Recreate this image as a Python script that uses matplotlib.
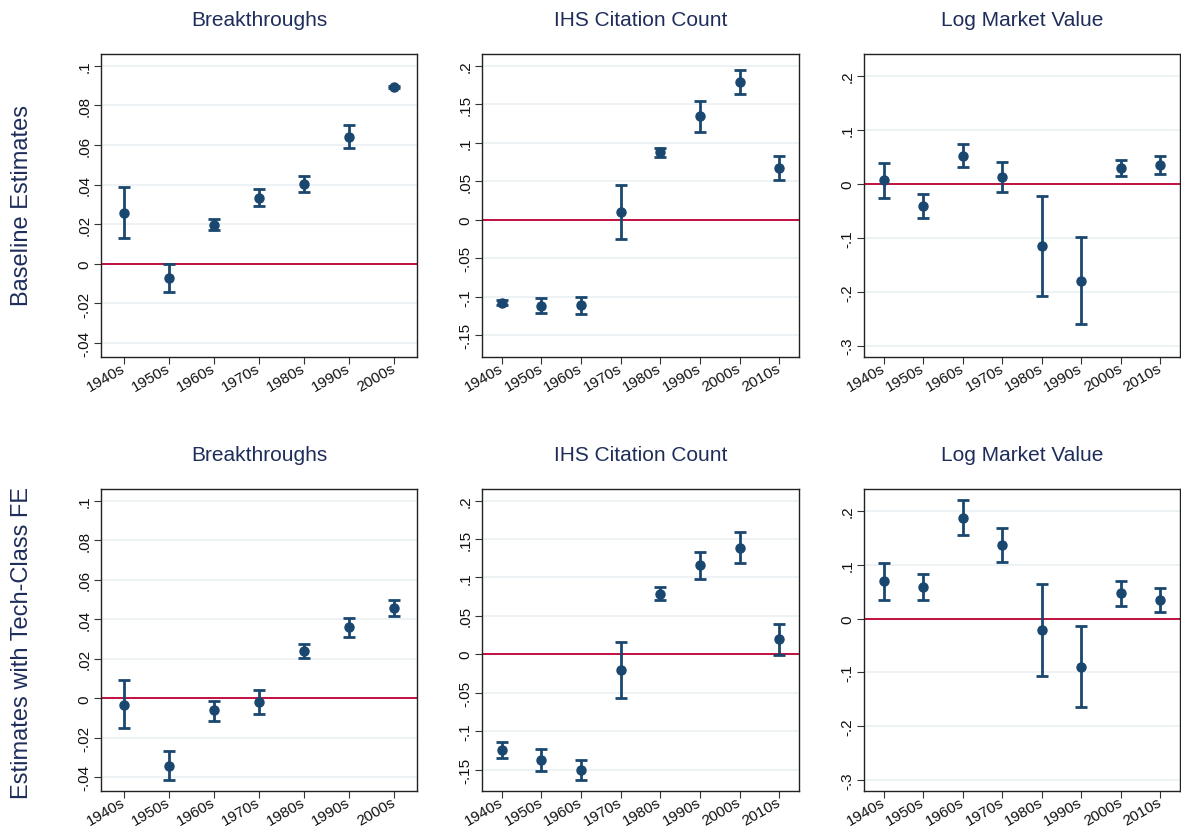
import numpy as np
import matplotlib
matplotlib.use('Agg')
from matplotlib import pyplot as plt

plt.rcParams['font.family'] = ['Liberation Sans', 'DejaVu Sans']

decades7 = ['1940s', '1950s', '1960s', '1970s', '1980s', '1990s', '2000s']
decades8 = decades7 + ['2010s']

# baseline estimates (point, lower, upper)
brk_b = [0.0259, -0.0072, 0.0198, 0.0333, 0.0403, 0.0642, 0.0894]
brk_b_lo = [0.0129, -0.0141, 0.0171, 0.0291, 0.0363, 0.0583, 0.0890]
brk_b_hi = [0.0390, 0.0000, 0.0225, 0.0376, 0.0445, 0.0701, 0.0898]

cit_b = [-0.1076, -0.1114, -0.1110, 0.0099, 0.0873, 0.1343, 0.1788, 0.0665]
cit_b_lo = [-0.1110, -0.1210, -0.1218, -0.0250, 0.0812, 0.1140, 0.1637, 0.0510]
cit_b_hi = [-0.1037, -0.1015, -0.1002, 0.0445, 0.0933, 0.1546, 0.1940, 0.0825]

mv_b = [0.0068, -0.0409, 0.0526, 0.0130, -0.1152, -0.1796, 0.0291, 0.0353]
mv_b_lo = [-0.0260, -0.0632, 0.0316, -0.0155, -0.2074, -0.2594, 0.0142, 0.0180]
mv_b_hi = [0.0396, -0.0192, 0.0743, 0.0415, -0.0223, -0.0990, 0.0446, 0.0526]

# estimates with tech-class FE
brk_f = [-0.0032, -0.0341, -0.0060, -0.0020, 0.0239, 0.0360, 0.0455]
brk_f_lo = [-0.0151, -0.0415, -0.0113, -0.0081, 0.0203, 0.0311, 0.0415]
brk_f_hi = [0.0091, -0.0269, -0.0012, 0.0040, 0.0274, 0.0407, 0.0497]

cit_f = [-0.1250, -0.1375, -0.1500, -0.0203, 0.0789, 0.1155, 0.1388, 0.0194]
cit_f_lo = [-0.1349, -0.1522, -0.1634, -0.0565, 0.0707, 0.0983, 0.1185, -0.0004]
cit_f_hi = [-0.1147, -0.1233, -0.1370, 0.0155, 0.0871, 0.1332, 0.1595, 0.0397]

mv_f = [0.0691, 0.0580, 0.1877, 0.1370, -0.0210, -0.0895, 0.0469, 0.0352]
mv_f_lo = [0.0352, 0.0346, 0.1549, 0.1043, -0.1068, -0.1642, 0.0241, 0.0123]
mv_f_hi = [0.1031, 0.0827, 0.2204, 0.1691, 0.0648, -0.0136, 0.0698, 0.0574]

titles = ['Breakthroughs', 'IHS Citation Count', 'Log Market Value']
row_labels = ['Baseline Estimates', 'Estimates with Tech-Class FE']

brk_ticks = [-0.04, -0.02, 0, 0.02, 0.04, 0.06, 0.08, 0.1]
cit_ticks = [-0.15, -0.1, -0.05, 0, 0.05, 0.1, 0.15, 0.2]
mv_ticks = [-0.3, -0.2, -0.1, 0, 0.1, 0.2]

navy = '#1a476f'
title_col = '#1e2d5a'
red = '#c0103f'
grid_col = '#eaf1f3'


def fmt(v):
    if v == 0:
        return '0'
    s = ('%g' % v)
    return s.replace('0.', '.')


panels = [
    [(decades7, brk_b, brk_b_lo, brk_b_hi, brk_ticks, (-0.047, 0.106)),
     (decades8, cit_b, cit_b_lo, cit_b_hi, cit_ticks, (-0.178, 0.215)),
     (decades8, mv_b, mv_b_lo, mv_b_hi, mv_ticks, (-0.321, 0.241))],
    [(decades7, brk_f, brk_f_lo, brk_f_hi, brk_ticks, (-0.047, 0.106)),
     (decades8, cit_f, cit_f_lo, cit_f_hi, cit_ticks, (-0.178, 0.215)),
     (decades8, mv_f, mv_f_lo, mv_f_hi, mv_ticks, (-0.321, 0.241))],
]

fig = plt.figure(figsize=(11.81, 8.29), dpi=100)
lefts = [0.0855, 0.4081, 0.7316]
widths = [0.2676, 0.2684, 0.2676]
bottoms = [0.5682, 0.0446]
heights = [0.3655, 0.3643]

for r in range(2):
    for c in range(3):
        labs, est, lo, hi, ticks, ylim = panels[r][c]
        ax = fig.add_axes([lefts[c], bottoms[r], widths[c], heights[r]])
        x = np.arange(len(labs))
        est = np.array(est)
        err = [est - np.array(lo), np.array(hi) - est]
        ax.axhline(0, color=red, lw=1.4, zorder=2)
        ax.errorbar(x, est, yerr=err, fmt='o', color=navy, ms=6.5,
                    elinewidth=2, capsize=4, capthick=2, zorder=3)
        ax.set_xlim(-0.5, len(labs) - 0.5)
        ax.set_ylim(*ylim)
        ax.set_yticks(ticks)
        ax.set_yticklabels([fmt(t) for t in ticks], rotation=90, va='center')
        ax.set_xticks(x)
        ax.set_xticklabels(labs, rotation=30, ha='right', va='center',
                           rotation_mode='anchor')
        ax.grid(axis='y', color=grid_col, lw=1.2, zorder=0)
        ax.set_axisbelow(True)
        ax.tick_params(labelsize=11, length=5, color='#333333', labelcolor='#111111')
        ax.tick_params(axis='x', pad=2)
        ax.tick_params(axis='y', pad=2)
        for sp in ax.spines.values():
            sp.set_color('#222222')
            sp.set_linewidth(1)
        ax.set_title(titles[c], fontsize=15, color=title_col, pad=21)

fig.text(0.019, 0.752, row_labels[0], rotation=90, va='center', ha='center',
         fontsize=17, color=title_col)
fig.text(0.019, 0.225, row_labels[1], rotation=90, va='center', ha='center',
         fontsize=17, color=title_col)

plt.savefig('out.png', dpi=100)
